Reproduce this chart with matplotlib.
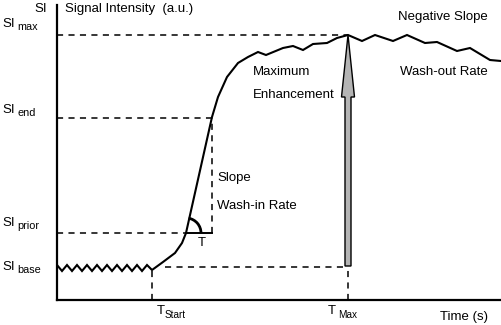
import matplotlib.pyplot as plt
from matplotlib.patches import Arc, FancyArrow

plt.rcParams['font.family'] = ['Liberation Sans', 'DejaVu Sans']

# enhancement curve (time and signal intensity, arbitrary units)
time = [0, 5, 10, 15, 20, 25, 30, 35, 40, 45, 50, 55, 60, 65, 70, 75, 80, 85, 90, 95,
        106, 118, 125, 129, 155, 161, 170, 181, 191, 201, 209, 226, 236, 246, 256,
        270, 280, 291, 305, 318, 336, 350, 368, 380, 400, 413, 433, 444]
signal = [35, 29, 35, 29, 35, 29, 35, 29, 35, 29, 35, 29, 35, 29, 35, 29, 35, 29, 35, 30,
          38, 47, 57, 67, 183, 203, 223, 237, 243, 248, 245, 252, 254, 250, 256,
          257, 262, 265, 259, 265, 259, 265, 257, 258, 249, 252, 240, 239]

# characteristic levels and times
si_levels = {"max": 265, "end": 182, "prior": 67, "base": 33}
t_start, t_prior, t_end, t_max = 95, 129, 155, 291

fig = plt.figure(figsize=(5.01, 3.25), dpi=100)
ax = fig.add_axes([57 / 501, 25 / 325, 444 / 501, 300 / 325])
ax.set_xlim(0, 444)
ax.set_ylim(0, 300)
ax.set_xticks([])
ax.set_yticks([])
for side in ("top", "right"):
    ax.spines[side].set_visible(False)
for side in ("left", "bottom"):
    ax.spines[side].set_linewidth(1.6)
ax.spines["left"].set_bounds(0, 295)

dash = dict(color="black", lw=1.1, linestyle=(0, (4, 3.5)))

# horizontal reference levels
ax.plot([0, t_max], [si_levels["max"]] * 2, **dash)
ax.plot([0, t_end], [si_levels["end"]] * 2, **dash)
ax.plot([0, t_prior], [si_levels["prior"]] * 2, **dash)
ax.plot([t_prior, t_end], [si_levels["prior"]] * 2, color="black", lw=1.4)
ax.plot([108, t_max], [si_levels["base"] + 0.5] * 2, **dash)

# vertical reference lines
ax.plot([t_end, t_end], [si_levels["prior"], si_levels["end"]], **dash)
ax.plot([t_start, t_start], [0, 30], **dash)
ax.plot([t_max, t_max], [0, 33], **dash)

# signal curve
ax.plot(time, signal, color="black", lw=1.5, solid_joinstyle="miter")

# maximum enhancement arrow
ax.add_patch(FancyArrow(t_max, si_levels["base"] + 1, 0, si_levels["max"] - si_levels["base"] - 1,
                        width=6, head_width=13, head_length=62, length_includes_head=True,
                        facecolor="#b4b4b4", edgecolor="black", lw=1.0, zorder=3))

# wash-in angle between the baseline and the slope
ax.add_patch(Arc((t_prior, si_levels["prior"]), 30, 30, theta1=0, theta2=80,
                 color="black", lw=2.0))

fs = 9.5
sub = 7.8
ax.text(-10, 291, "SI", fontsize=fs, ha="right", va="center")
ax.text(8, 291, "Signal Intensity  (a.u.)", fontsize=fs, ha="left", va="center")

for name, y in [("max", 276), ("end", 190), ("prior", 77), ("base", 33)]:
    ax.text(-55, y, "SI", fontsize=fs, ha="left", va="center")
    ax.text(-40, y - 3, name, fontsize=sub, ha="left", va="center")

ax.text(100, -11, "T", fontsize=fs, ha="left", va="center")
ax.text(108, -15, "Start", fontsize=sub - 0.6, ha="left", va="center")
ax.text(271, -11, "T", fontsize=fs, ha="left", va="center")
ax.text(281, -15, "Max", fontsize=sub - 0.6, ha="left", va="center")
ax.text(383, -17, "Time (s)", fontsize=fs, ha="left", va="center")

ax.text(341, 283, "Negative Slope", fontsize=fs, ha="left", va="center")
ax.text(343, 228, "Wash-out Rate", fontsize=fs, ha="left", va="center")
ax.text(196, 228, "Maximum", fontsize=fs, ha="left", va="center")
ax.text(196, 205, "Enhancement", fontsize=fs, ha="left", va="center")
ax.text(160, 122, "Slope", fontsize=fs, ha="left", va="center")
ax.text(160, 94, "Wash-in Rate", fontsize=fs, ha="left", va="center")
ax.text(145, 57, "T", fontsize=fs, ha="center", va="center")

fig.savefig("out.png", dpi=100)
